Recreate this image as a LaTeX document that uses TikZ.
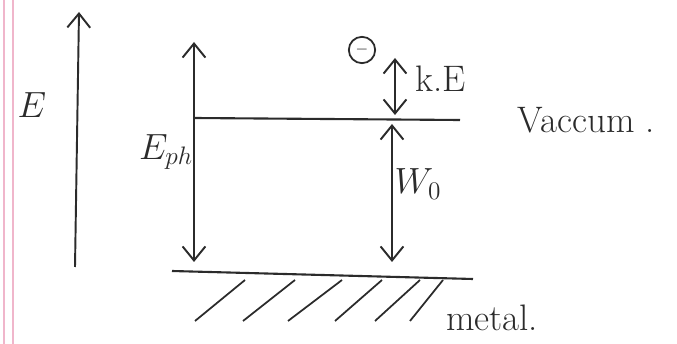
\documentclass[tikz,border=0pt]{standalone}
\usepackage{tikz}
\usetikzlibrary{arrows.meta}
\definecolor{ink}{HTML}{2B2B2B}
\definecolor{margin}{HTML}{F0B6CB}

\begin{document}
\begin{tikzpicture}[x=0.02cm,y=-0.02cm,>={Straight Barb[length=8pt,width=13pt]},line width=1.1pt,ink]
\tikzset{lbl/.style={font=\fontsize{21}{25}\selectfont,inner sep=1pt},
  level/.style={line width=1.2pt},
  hatch/.style={line width=1pt}}
\useasboundingbox (0,0) rectangle (677,344);
% notebook margin
\draw[margin,line width=0.7pt] (4,0) -- (4,344);
\draw[margin,line width=0.7pt] (13,0) -- (13,344);
% energy axis
\coordinate (Ebot) at (75,267);
\coordinate (Etop) at (79,12);
\draw[->] (Ebot) -- (Etop);
\node[lbl] (E) at (32,105) {$E$};
% levels
\coordinate (vacL) at (194,118);
\coordinate (vacR) at (460,120);
\draw[level] (vacL) -- (vacR);
\node[lbl,anchor=west] (vac) at (515,120) {Vaccum .};
\coordinate (metL) at (172,271);
\coordinate (metR) at (473,279);
\draw[level] (metL) -- (metR);
\foreach \a/\b in {195/245,243/295,288/342,335/382,375/420,410/443}
  \draw[hatch] (\a,321) -- (\b,280);
\node[lbl] (metal) at (492,318) {metal.};
% photon energy
\coordinate (phTop) at (194,42);
\coordinate (phBot) at (194,262);
\draw[<->] (phBot) -- (phTop);
\node[lbl] (Eph) at (166,152) {$E_{ph}$};
% electron and kinetic energy
\node[circle,draw,line width=1pt,inner sep=0.5pt,minimum size=15pt,font=\small] (el) at (362,50) {$-$};
\coordinate (keTop) at (395,58);
\coordinate (keBot) at (395,115);
\draw[<->] (keBot) -- (keTop);
\node[lbl] (kE) at (441,79) {k.E};
% work function
\coordinate (wTop) at (392,124);
\coordinate (wBot) at (392,262);
\draw[<->] (wBot) -- (wTop);
\node[lbl] (W) at (418,184) {$W_0$};
\end{tikzpicture}
\end{document}
